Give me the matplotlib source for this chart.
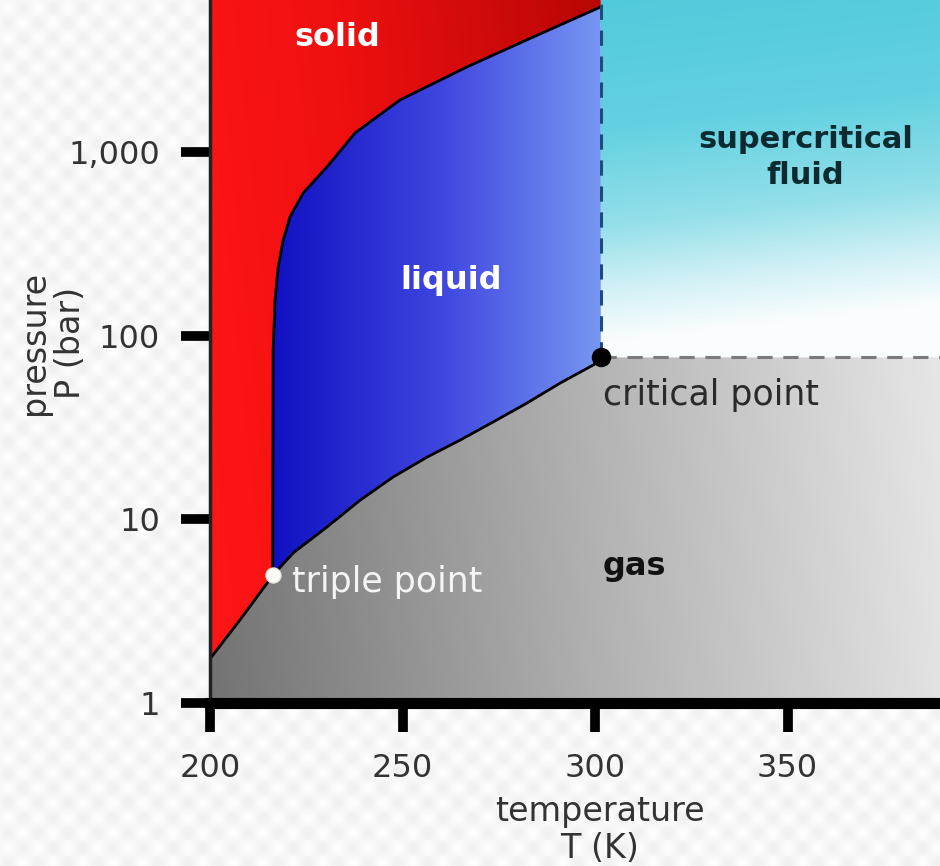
import numpy as np
import matplotlib
matplotlib.use("Agg")
import matplotlib.pyplot as plt
from matplotlib.patches import Polygon
from matplotlib.colors import to_rgb
from matplotlib.ticker import FixedLocator, FixedFormatter, NullLocator

# CO2 phase diagram (T in K, P in bar)
T_sub = [200.0, 208.0, 216.3]
P_sub = [1.74, 2.87, 4.95]

T_melt = [216.3, 216.4, 216.9, 217.7, 219.0, 220.8, 224.2, 230.4, 237.7, 249.4, 266.8, 284.0, 299.6, 301.5]
P_melt = [4.95, 83.5, 156, 236, 331, 443, 597, 828, 1268, 1918, 2900, 4220, 5900, 6150]

T_vap = [216.3, 221.6, 230.4, 239.0, 247.6, 256.4, 265.0, 273.6, 282.4, 291.0, 299.6, 301.5]
P_vap = [4.95, 6.56, 9.08, 12.7, 17.0, 21.8, 27.0, 33.9, 43.0, 55.2, 69.2, 76.0]

T_triple, P_triple = 216.3, 4.95
T_crit, P_crit = 301.5, 76.0

T_range = [200, 400]
P_range = [1, 10000]
xticks = [200, 250, 300, 350]
xtick_labels = ['200', '250', '300', '350']
yticks = [1, 10, 100, 1000]
ytick_labels = ['1', '10', '100', '1,000']

TXT = '#333333'

fig = plt.figure(figsize=(9.4, 8.66), dpi=100)

# faint checker background like the source image
yy, xx = np.mgrid[0:866, 0:940]
bg = 0.965 + 0.025 * np.sin(2 * np.pi * xx / 30.0) * np.sin(2 * np.pi * yy / 30.0)
fig.figimage(bg, cmap='gray', vmin=0, vmax=1, zorder=-10)

ax = fig.add_axes([0.2234, 0.1882, 0.8192, 0.8487])
ax.set_facecolor('none')
ax.set_yscale('log')
ax.set_xlim(T_range)
ax.set_ylim(P_range)
ax.set_autoscale_on(False)


def gradient(coord, pos, cols):
    rgb = np.array([to_rgb(c) for c in cols])
    out = np.zeros(coord.shape + (3,))
    for k in range(3):
        out[..., k] = np.interp(coord, pos, rgb[:, k])
    return out


U, V = np.meshgrid(np.linspace(0, 1, 500), np.linspace(1, 0, 500))


def region(verts, img, z=1):
    poly = Polygon(verts, closed=True, facecolor='none', edgecolor='none', transform=ax.transData)
    ax.add_patch(poly)
    im = ax.imshow(img, extent=(0, 1, 0, 1), transform=ax.transAxes, aspect='auto',
                   interpolation='bilinear', zorder=z)
    im.set_clip_path(poly)


# gas
gas = ([(T_range[0], P_range[0])] + list(zip(T_sub, P_sub)) + list(zip(T_vap[1:], P_vap[1:]))
       + [(T_range[1], P_crit), (T_range[1], P_range[0])])
region(gas, gradient(U + 0.08 * V, [0, 0.5, 1.0], ['#737373', '#b0b0b0', '#e8e8e8']))

# solid
solid = (list(zip(T_sub, P_sub)) + list(zip(T_melt[1:], P_melt[1:]))
         + [(T_crit, P_range[1]), (T_range[0], P_range[1])])
region(solid, gradient(U + 0.1 * V, [0, 0.25, 0.6], ['#ff1616', '#f01010', '#b80606']))

# liquid
liquid = list(zip(T_melt, P_melt)) + list(zip(T_vap[::-1][:-1], P_vap[::-1][:-1]))
region(liquid, gradient(U, [0.08, 0.3, 0.51], ['#1010c2', '#3f46df', '#7898f3']))

# supercritical fluid
sc = [(T_crit, P_crit), (T_range[1], P_crit), (T_range[1], P_range[1]), (T_crit, P_range[1])]
region(sc, gradient(V - 0.12 * (U - 0.5), [0.49, 0.56, 0.65, 0.78, 1.0],
                    ['#fafdfe', '#d2f1f6', '#93dfe9', '#63d1e1', '#4dc9da']))

# phase boundaries
kw = dict(color='black', lw=2, zorder=3, solid_joinstyle='round')
ax.plot(T_sub, P_sub, **kw)
ax.plot(T_melt, P_melt, **kw)
ax.plot(T_vap, P_vap, **kw)
ax.plot([T_crit, T_crit], [P_crit, P_range[1]], color='#1d4c7a', lw=2.2, dashes=(5, 3.5), zorder=3)
ax.plot([T_crit, T_range[1]], [P_crit, P_crit], color='#7a7a7a', lw=2.2, dashes=(5, 3.5), zorder=3)

ax.plot([T_crit], [P_crit], 'o', color='black', ms=13, zorder=4)
ax.plot([T_triple], [P_triple], 'o', color='#fbfbf5', mec='#dddddd', mew=0.8, ms=11, zorder=4)

# labels
ax.text(233, 4170, 'solid', color='white', fontsize=23, fontweight='bold', ha='center', va='center', zorder=5)
ax.text(262.6, 200, 'liquid', color='white', fontsize=23, fontweight='bold', ha='center', va='center', zorder=5)
ax.text(354.7, 930, 'supercritical\nfluid', color='#0b2b31', fontsize=22, fontweight='bold',
        ha='center', va='center', linespacing=1.3, zorder=5)
ax.text(310.2, 5.5, 'gas', color='#111111', fontsize=23, fontweight='bold', ha='center', va='center', zorder=5)
ax.text(302, 47.5, 'critical point', color='#2a2a2a', fontsize=25, ha='left', va='center', zorder=5)
ax.text(221.3, 4.56, 'triple point', color='#f4f4f4', fontsize=25, ha='left', va='center', zorder=5)

# axes styling
for s in ['top', 'right']:
    ax.spines[s].set_visible(False)
ax.spines['left'].set_linewidth(2.5)
ax.spines['left'].set_color('#222222')
ax.spines['bottom'].set_linewidth(8)
ax.spines['bottom'].set_color('black')
ax.spines['left'].set_zorder(6)
ax.spines['bottom'].set_zorder(6)

ax.xaxis.set_major_locator(FixedLocator(xticks))
ax.xaxis.set_major_formatter(FixedFormatter(xtick_labels))
ax.yaxis.set_major_locator(FixedLocator(yticks))
ax.yaxis.set_major_formatter(FixedFormatter(ytick_labels))
ax.yaxis.set_minor_locator(NullLocator())
ax.xaxis.set_minor_locator(NullLocator())
ax.tick_params(axis='both', length=21, width=7, color='black', labelsize=23, labelcolor=TXT)
ax.tick_params(axis='x', pad=15)
ax.tick_params(axis='y', pad=15)

ax.set_xlabel('temperature\nT (K)', fontsize=24, color=TXT, linespacing=1.15)
ax.xaxis.set_label_coords(0.506, -0.125)
ax.set_ylabel('pressure\nP (bar)', fontsize=24, color=TXT, linespacing=1.1)
ax.yaxis.set_label_coords(-0.16, 0.49)

fig.savefig('out.png', dpi=100)
